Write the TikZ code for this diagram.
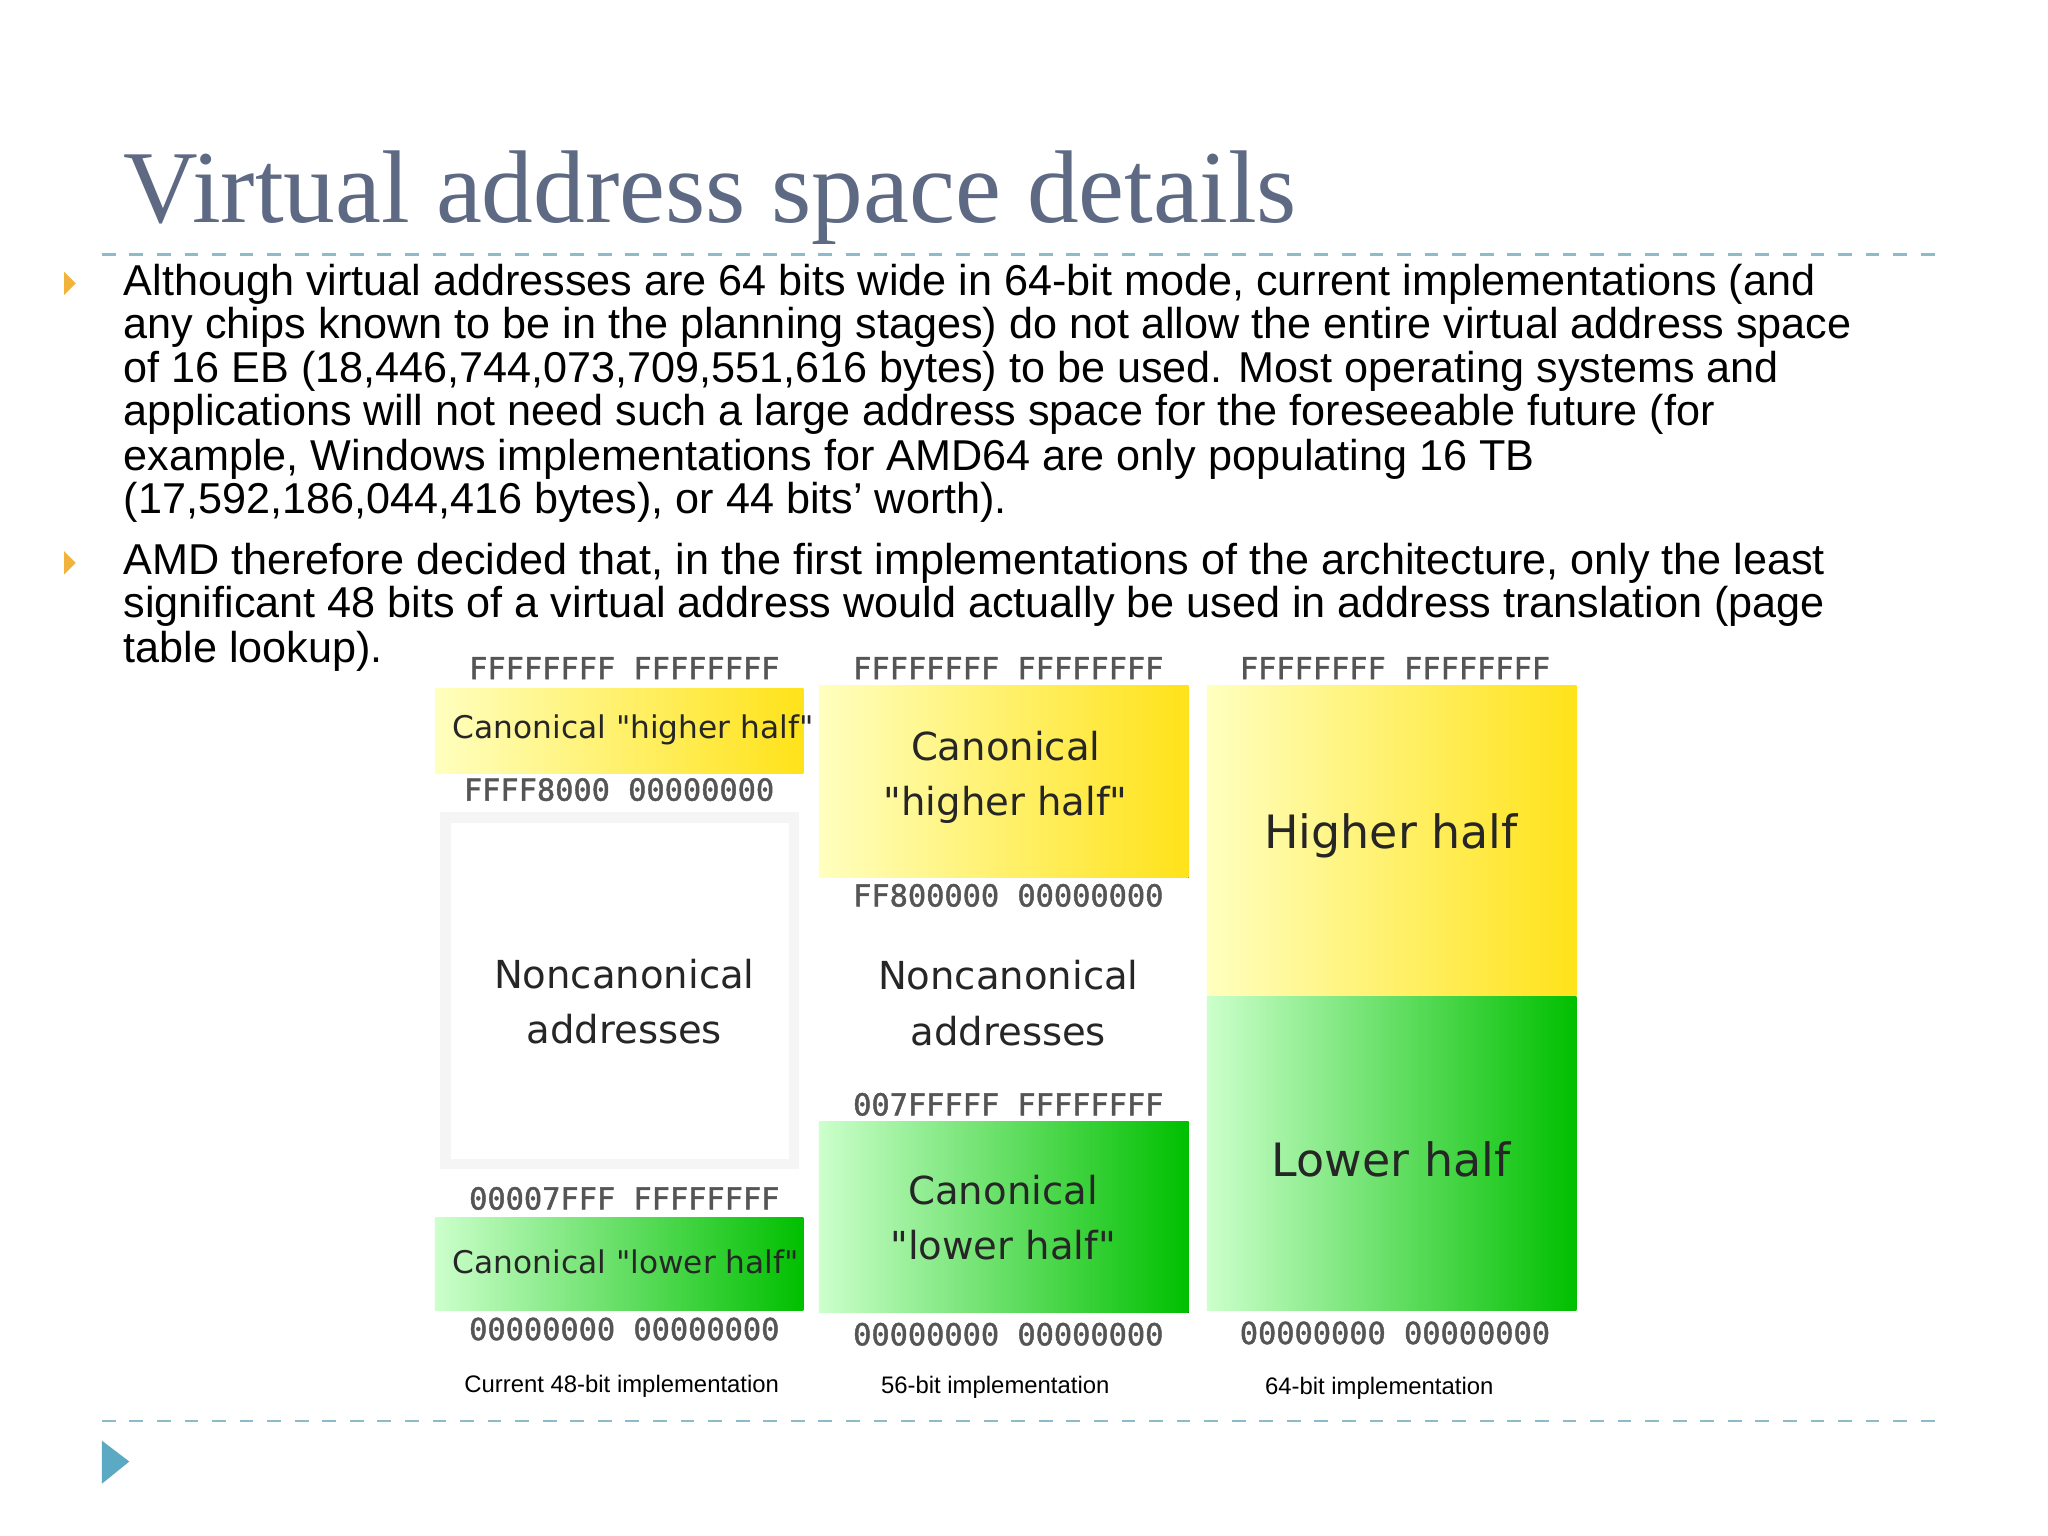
\documentclass[tikz,border=0pt]{standalone}
\usepackage{fontspec}
\setmainfont{Liberation Sans}
\newfontfamily\titlefont{Liberation Serif}
\newfontfamily\djsans{DejaVu Sans}
\newfontfamily\djmono{DejaVu Sans Mono}[FakeBold=1.5]
\definecolor{titlec}{HTML}{5E6A84}
\definecolor{dashc}{HTML}{8DBBC9}
\definecolor{bul}{HTML}{F2B33D}
\definecolor{tri}{HTML}{5BA9C2}
\definecolor{hexc}{HTML}{555555}
\tikzset{
 body/.style={anchor=base west,inner sep=0,font=\fontsize{9.4}{10}\selectfont},
 hex/.style={anchor=base,inner sep=0,text=hexc,font=\djmono\fontsize{6.6}{7}\selectfont},
 lab/.style={align=center,inner sep=0,font=\djsans\fontsize{8.4}{12}\selectfont,text=black!85},
 captext/.style={anchor=base,inner sep=0,font=\fontsize{5.2}{6}\selectfont},
 yel/.style={left color=yellow!25!white,right color=yellow!75!orange!90!white,draw=none},
 grn/.style={left color=green!20!white,right color=green!75!black,draw=none},
 sep/.style={dashc,dashed,line width=0.6pt},
}
\begin{document}
\begin{tikzpicture}[x=0.01cm,y=-0.01cm]
\useasboundingbox (0,0) rectangle (1568,1176);
\fill[white] (0,0) rectangle (1568,1176);
\node[anchor=base west,inner sep=0,text=titlec,font=\titlefont\fontsize{22.5}{24}\selectfont] (title) at (94,170) {Virtual address space details};
\coordinate (d1a) at (78,195); \coordinate (d1b) at (1490,195);
\draw[sep] (d1a) -- (d1b);
\coordinate (d2a) at (78,1088); \coordinate (d2b) at (1490,1088);
\draw[sep] (d2a) -- (d2b);
\fill[bul] (49,208) -- (58,217) -- (49,226) -- cycle;
\fill[bul] (49,422) -- (58,431) -- (49,440) -- cycle;
\fill[tri] (78,1103) -- (99,1119) -- (78,1136) -- cycle;
\node[body] (l1) at (94,226) {Although virtual addresses are 64 bits wide in 64-bit mode, current implementations (and};
\node[body] (l2) at (94,259) {any chips known to be in the planning stages) do not allow the entire virtual address space};
\node[body] (l3) at (94,293) {of 16 EB (18,446,744,073,709,551,616 bytes) to be used. Most operating systems and};
\node[body] (l4) at (94,326) {applications will not need such a large address space for the foreseeable future (for};
\node[body] (l5) at (94,360) {example, Windows implementations for AMD64 are only populating 16 TB};
\node[body] (l6) at (94,393) {(17,592,186,044,416 bytes), or 44 bits' worth).};
\node[body] (m1) at (94,440) {AMD therefore decided that, in the first implementations of the architecture, only the least};
\node[body] (m2) at (94,473) {significant 48 bits of a virtual address would actually be used in address translation (page};
\node[body] (m3) at (94,507) {table lookup).};
% column 1
\fill[black!4] (337,622) rectangle (612,895);
\fill[white] (345,630) rectangle (604,887);
\fill[yel] (333,527) rectangle (615,592);
\fill[grn] (333,932) rectangle (615,1003);
\node[hex] (a1) at (478,520) {FFFFFFFF FFFFFFFF};
\node[lab,font=\djsans\fontsize{6.8}{8}\selectfont,anchor=west] (a2) at (346,559) {Canonical "higher half"};
\node[hex] (a3) at (474,613) {FFFF8000 00000000};
\node[lab] (a4) at (478,767) {Noncanonical\\addresses};
\node[hex] (a5) at (478,926) {00007FFF FFFFFFFF};
\node[lab,font=\djsans\fontsize{6.8}{8}\selectfont,anchor=west] (a6) at (346,966) {Canonical "lower half"};
\node[hex] (a7) at (478,1026) {00000000 00000000};
\node[captext] (a8) at (476,1066) {Current 48-bit implementation};
% column 2
\fill[yel] (627,525) rectangle (910,672);
\fill[grn] (627,859) rectangle (910,1005);
\node[hex] (b1) at (772,520) {FFFFFFFF FFFFFFFF};
\node[lab] (b2) at (770,595) {Canonical\\"higher half"};
\node[hex] (b3) at (772,694) {FF800000 00000000};
\node[lab] (b4) at (772,768) {Noncanonical\\addresses};
\node[hex] (b5) at (772,854) {007FFFFF FFFFFFFF};
\node[lab] (b6) at (768,932) {Canonical\\"lower half"};
\node[hex] (b7) at (772,1030) {00000000 00000000};
\node[captext] (b8) at (762,1067) {56-bit implementation};
% column 3
\fill[yel] (924,525) rectangle (1207,763);
\fill[grn] (924,763) rectangle (1207,1003);
\node[hex] (c1) at (1068,520) {FFFFFFFF FFFFFFFF};
\node[lab,font=\djsans\fontsize{10}{12}\selectfont] (c2) at (1065,640) {Higher half};
\node[lab,font=\djsans\fontsize{10}{12}\selectfont] (c3) at (1065,888) {Lower half};
\node[hex] (c4) at (1068,1029) {00000000 00000000};
\node[captext] (c5) at (1056,1068) {64-bit implementation};
\end{tikzpicture}
\end{document}
